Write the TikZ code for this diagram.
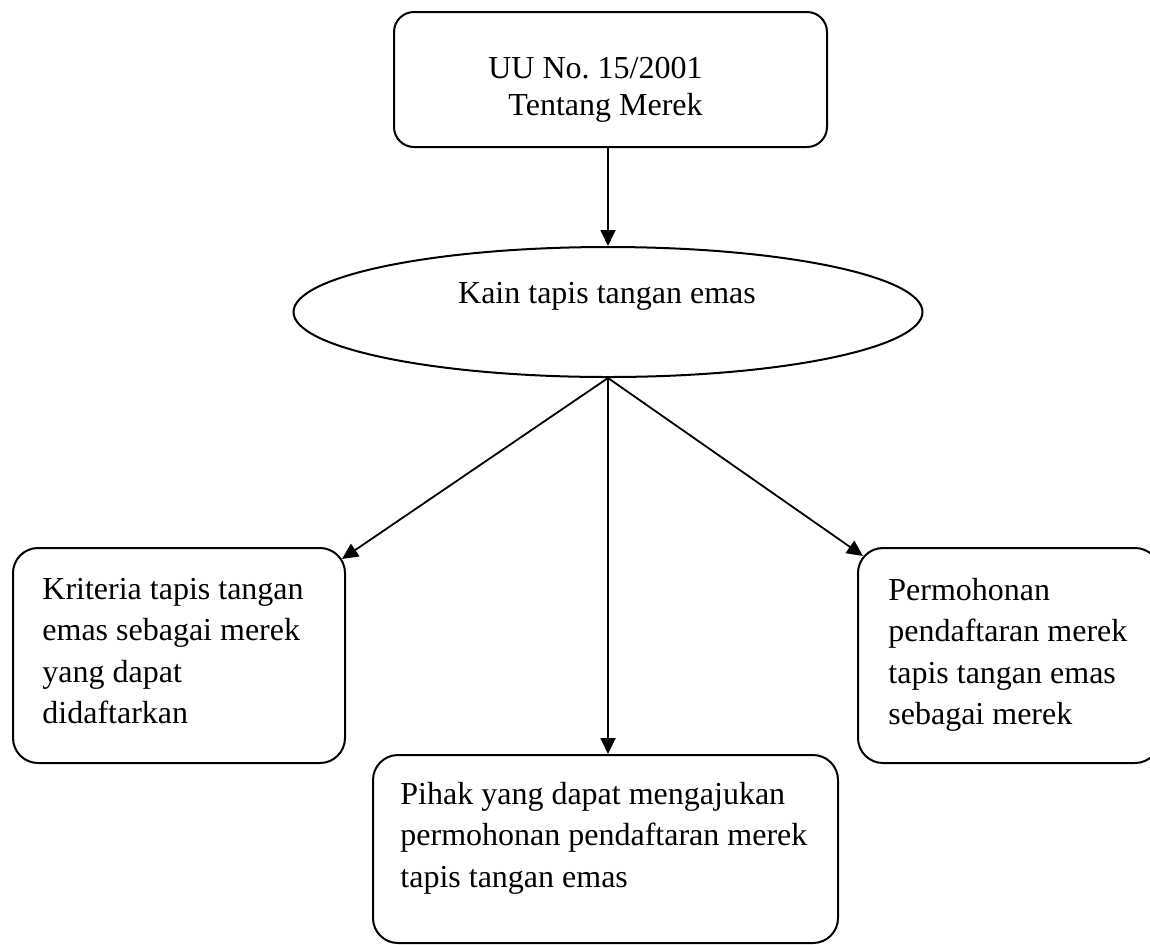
\documentclass[tikz,border=0pt]{standalone}
\usepackage{fontspec}
\setmainfont{Liberation Serif}
\usetikzlibrary{shapes.geometric,arrows.meta,calc}
\tikzset{
  kotak/.style={draw,line width=1pt,rounded corners=12.5pt,inner sep=0pt},
  teks/.style={inner sep=0pt,align=left,font=\fontsize{16}{20.6}\selectfont},
  panah/.style={line width=0.9pt,-{Triangle[length=8pt,width=7.5pt]}}
}
\begin{document}
\begin{tikzpicture}[x=0.5pt,y=-0.5pt]
            \useasboundingbox (0,0) rectangle (1150,944);
            \node[kotak,rounded corners=10pt,minimum width=216.5pt,minimum height=67.5pt] (uu) at (610.5,79.5) {};
            \node[draw,line width=1pt,ellipse,inner sep=0pt,minimum width=314.5pt,minimum height=65pt] (kain) at (608,312) {};
            \node[kotak,minimum width=166pt,minimum height=107.5pt] (kriteria) at (179,655.5) {};
            \node[kotak,minimum width=232.5pt,minimum height=94pt] (pihak) at (605.5,849) {};
            \node[kotak,minimum width=151pt,minimum height=107.5pt] (mohon) at (1009,655.5) {};
            \node[teks,align=right,font=\fontsize{16}{18.3}\selectfont,anchor=north east] (uuT) at (703,57) {UU No.\ 15/2001\\Tentang Merek};
            \node[teks,anchor=base] (kainT) at (607,303) {Kain tapis tangan emas};
            \node[teks,anchor=north west] (kriteriaT) at (42,578) {Kriteria tapis tangan\\emas sebagai merek\\yang dapat\\didaftarkan};
            \node[teks,anchor=north west] (pihakT) at (400,782) {Pihak yang dapat mengajukan\\permohonan pendaftaran merek\\tapis tangan emas};
            \node[teks,anchor=north west] (mohonT) at (888,578) {Permohonan\\pendaftaran merek\\tapis tangan emas\\sebagai merek};
            \draw[panah] (kain.north |- uu.south) -- (kain.north);
            \draw[panah] (kain.south) -- ($(kriteria.north east)+(-4,12)$);
            \draw[panah] (kain.south) -- (kain.south |- pihak.north);
            \draw[panah] (kain.south) -- ($(mohon.north west)+(6,9)$);
\end{tikzpicture}
\end{document}
